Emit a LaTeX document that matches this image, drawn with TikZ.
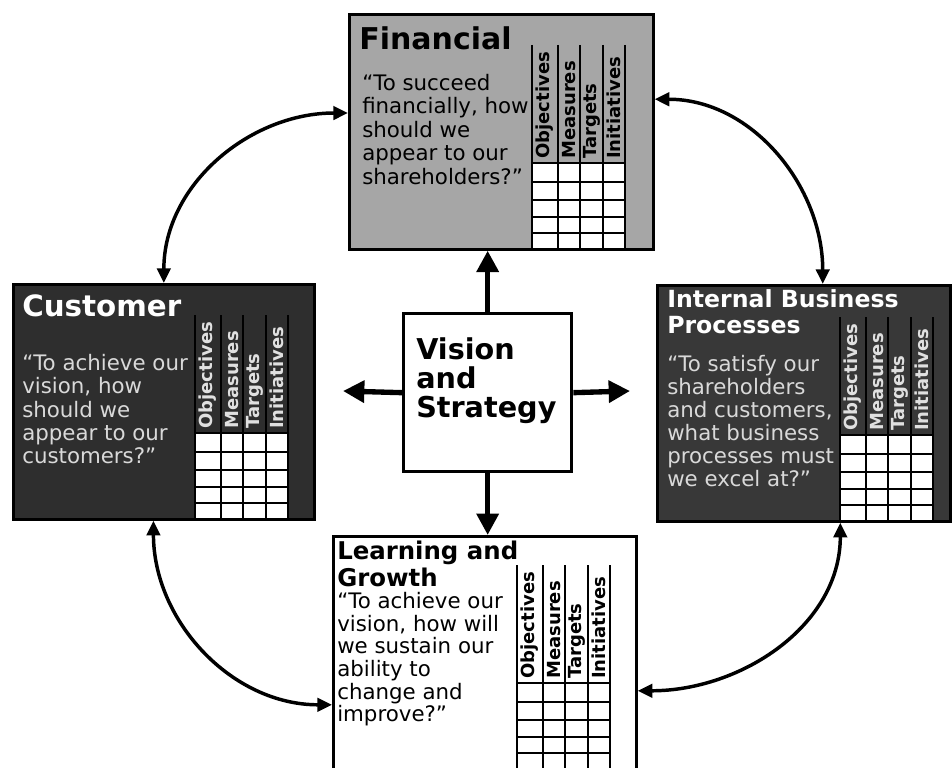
\documentclass[tikz,border=0pt]{standalone}
\usepackage{fontspec}
\setmainfont{DejaVu Sans}
\usetikzlibrary{arrows.meta}

\tikzset{
  panel/.style={draw, line width=2pt, anchor=north west, inner sep=0pt},
  heading/.style={anchor=north west, inner sep=0pt, align=left, font=\bfseries},
  saying/.style={anchor=north west, inner sep=0pt, align=left},
  colhead/.style={rotate=90, anchor=west, inner sep=0pt,
    font=\bfseries\fontsize{13.5}{13.5}\selectfont},
  tablerule/.style={line width=2.2pt},
  thrust/.style={line width=4pt, -{Triangle[length=16pt,width=16pt]}},
  link/.style={line width=2.6pt,
    {Triangle[length=11pt,width=10pt]}-{Triangle[length=11pt,width=10pt]}},
}

% objectives / measures / targets / initiatives table
% #1 left x, #2 top of the grid, #3 label colour, #4 name prefix
\newcommand{\scorecard}[4]{%
  \fill[white] (#1,#2) rectangle (#1+93,#2+85);
  \foreach \dy in {0,19,37,54,70}
    \draw[tablerule] (#1,#2+\dy) -- (#1+93,#2+\dy);
  \foreach \dx in {0,26,48,71,93}
    \draw[tablerule] (#1+\dx,#2-118) -- (#1+\dx,#2+85);
  \foreach \dx/\lbl in {13/Objectives,37/Measures,59.5/Targets,82/Initiatives}
    \node[colhead,text=#3] (#4-\lbl) at (#1+\dx,#2-4) {\lbl};
}

\begin{document}
\begin{tikzpicture}[x=0.75pt,y=-0.75pt]
  \useasboundingbox (0,0) rectangle (952,767);

  % the five boxes
  \node[panel, fill=black!35, minimum width=304*0.75pt, minimum height=235*0.75pt]
    (fin) at (348,13) {};
  \node[panel, fill=black!82, minimum width=301*0.75pt, minimum height=235*0.75pt]
    (cust) at (12,283) {};
  \node[panel, fill=black!78, minimum width=293*0.75pt, minimum height=236*0.75pt]
    (int) at (656,284) {};
  \node[panel, fill=white, minimum width=303*0.75pt, minimum height=255*0.75pt]
    (learn) at (332,535) {};
  \node[panel, fill=white, line width=2.5pt, minimum width=168*0.75pt, minimum height=158*0.75pt]
    (vis) at (402,312) {};

  % tables
  \scorecard{532}{163}{black}{fin}
  \scorecard{195}{433}{black!12}{cust}
  \scorecard{840}{435}{black!12}{int}
  \scorecard{517}{683}{black}{learn}

  % texts
  \node[heading, font=\bfseries\fontsize{22.5}{24}\selectfont] (fin-title) at (359,26) {Financial};
  \node[saying, font=\fontsize{16}{17.6}\selectfont] (fin-text) at (362,74)
    {“To succeed\\financially, how\\should we\\appear to our\\shareholders?”};

  \node[heading, text=white, font=\bfseries\fontsize{22}{24}\selectfont] (cust-title) at (22,294) {Customer};
  \node[saying, text=black!15, font=\fontsize{16}{17.5}\selectfont] (cust-text) at (22,354)
    {“To achieve our\\vision, how\\should we\\appear to our\\customers?”};

  \node[heading, text=white, font=\bfseries\fontsize{17.7}{19.5}\selectfont] (int-title) at (667,289)
    {Internal Business\\Processes};
  \node[saying, text=black!15, font=\fontsize{16}{17.3}\selectfont] (int-text) at (667,355)
    {“To satisfy our\\shareholders\\and customers,\\what business\\processes must\\we excel at?”};

  \node[heading, font=\bfseries\fontsize{18.3}{20}\selectfont] (learn-title) at (337,541)
    {Learning and\\Growth};
  \node[saying, font=\fontsize{16}{17}\selectfont] (learn-text) at (337,592)
    {“To achieve our\\vision, how will\\we sustain our\\ability to\\change and\\improve?”};

  \node[heading, font=\bfseries\fontsize{21.5}{22}\selectfont] (vis-text) at (416,337)
    {Vision\\and\\Strategy};

  % arrows out of the centre
  \coordinate (lft) at (343,391);
  \coordinate (rgt) at (630,391);
  \draw[thrust] (vis.north) -- (vis.north |- fin.south);
  \draw[thrust] (vis.south) -- (vis.south |- learn.north);
  \draw[thrust] (vis.west) -- (lft);
  \draw[thrust] (vis.east) -- (rgt);

  % links between the perspectives
  \draw[link] (fin.173) to[out=180,in=90] (cust.north);
  \draw[link] (fin.12) to[out=0,in=90] (int.81);
  \draw[link] (cust.265) to[out=-90,in=180] (learn.195);
  \draw[link] (int.-73) to[out=-90,in=0] (learn.-10);
\end{tikzpicture}
\end{document}
